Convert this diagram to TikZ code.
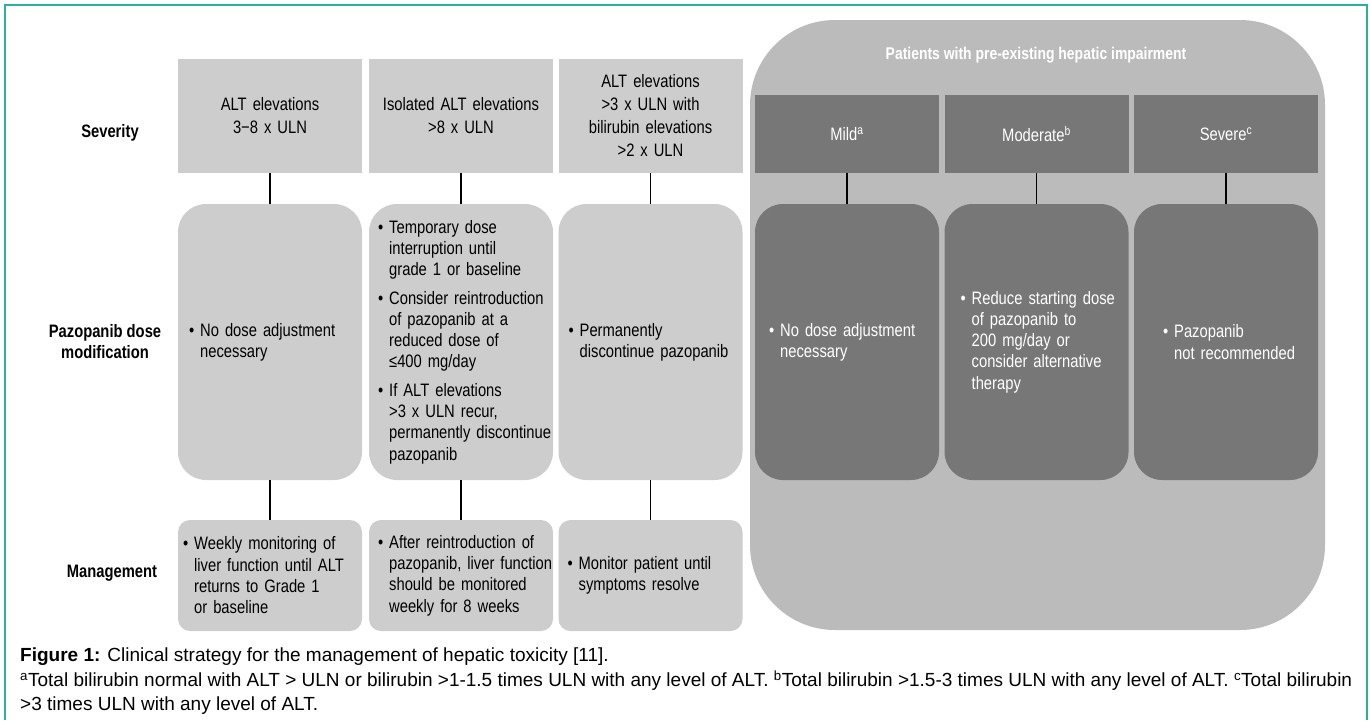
\documentclass[tikz,border=0pt]{standalone}
\usepackage{fontspec}
\setmainfont{Liberation Sans}
\newfontfamily\narrowfont[FakeStretch=0.82]{Liberation Sans}
\usetikzlibrary{positioning}
\definecolor{framegreen}{RGB}{42,178,150}
\definecolor{lightbox}{RGB}{205,205,205}
\definecolor{regionbox}{RGB}{187,187,187}
\definecolor{darkbox}{RGB}{119,119,119}
\newcommand{\boxpad}{10pt}
\newcommand{\blt}{\hspace*{\boxpad}\textbullet\ }
\newcommand{\ind}{\hspace*{\boxpad}\phantom{\textbullet\ }}
\tikzset{
  headfont/.style={font=\narrowfont\fontsize{18}{23}\selectfont},
  bodyfont/.style={font=\narrowfont\fontsize{18}{21.3}\selectfont},
  textpad/.style={execute at begin node={\renewcommand{\boxpad}{#1}}},
  sevbox/.style={headfont, fill=lightbox, minimum width=184pt, minimum height=114pt, inner sep=2pt, text width=180pt, align=center},
  gradebox/.style={sevbox, fill=darkbox, text=white, minimum height=78pt},
  dosebox/.style={bodyfont, fill=lightbox, rounded corners=28pt, minimum height=276pt, inner xsep=0pt, text width=184pt, align=left, textpad=10pt},
  impdose/.style={dosebox, fill=darkbox, text=white, textpad=14pt},
  mgmtbox/.style={bodyfont, fill=lightbox, rounded corners=12pt, minimum height=111pt, inner xsep=0pt, text width=184pt, align=left, textpad=9pt},
  rowlabel/.style={font=\narrowfont\bfseries\fontsize{18}{21}\selectfont, align=center},
  link/.style={line width=1.6pt}
}

\begin{document}
\begin{tikzpicture}[x=1pt, y=-1pt]
  \useasboundingbox (0,0) rectangle (1370,720);
  \draw[framegreen, line width=2pt] (5,720) -- (5,5) -- (1367,5) -- (1367,720);

  % row labels
  \node[rowlabel] (lsev) at (110,133) {Severity};
  \node[rowlabel] (ldose) at (105,342) {Pazopanib dose\\modification};
  \node[rowlabel] (lmgmt) at (112,573) {Management};

  % pre-existing impairment region
  \node[fill=regionbox, rounded corners=85pt, minimum width=575pt, minimum height=610pt] (region) at (1037.5,325) {};
  \node[font=\narrowfont\bfseries\fontsize{17}{20}\selectfont, text=white] (rtitle) at (1036,55) {Patients with pre-existing hepatic impairment};

  % severity
  \node[sevbox] (sev1) at (270,116) {ALT elevations\\3\textminus 8 x ULN};
  \node[sevbox] (sev2) at (461,116) {Isolated ALT elevations\\>8 x ULN};
  \node[sevbox] (sev3) at (650.5,116) {ALT elevations\\>3 x ULN with\\bilirubin elevations\\>2 x ULN};
  \node[gradebox] (mild) at (847,134) {Mild\textsuperscript{a}};
  \node[gradebox] (moderate) at (1036.5,134) {Moderate\textsuperscript{b}};
  \node[gradebox] (severe) at (1226,134) {Severe\textsuperscript{c}};

  % dose modification
  \node[dosebox, textpad=11pt] (dose1) at (270,342) {\blt No dose adjustment\\\ind necessary};
  \node[dosebox, textpad=9pt] (dose2) at (461,342) {\blt Temporary dose\\\ind interruption until\\\ind grade 1 or baseline\\[7pt]
    \blt Consider reintroduction\\\ind of pazopanib at a\\\ind reduced dose of\\\ind ≤400 mg/day\\[7pt]
    \blt If ALT elevations\\\ind >3 x ULN recur,\\\ind permanently discontinue\\\ind pazopanib};
  \node[dosebox] (dose3) at (650.5,342) {\blt Permanently\\\ind discontinue pazopanib};
  \node[impdose] (dose4) at (847,342) {\blt No dose adjustment\\\ind necessary};
  \node[impdose, textpad=16pt] (dose5) at (1036.5,342) {\blt Reduce starting dose\\\ind of pazopanib to\\\ind 200 mg/day or\\\ind consider alternative\\\ind therapy};
  \node[impdose, textpad=29pt] (dose6) at (1226,342) {\blt Pazopanib\\\ind not recommended};

  % management
  \node[mgmtbox, textpad=5pt] (mgmt1) at (270,575.5) {\blt Weekly monitoring of\\\ind liver function until ALT\\\ind returns to Grade 1\\\ind or baseline};
  \node[mgmtbox] (mgmt2) at (461,575.5) {\blt After reintroduction of\\\ind pazopanib, liver function\\\ind should be monitored\\\ind weekly for 8 weeks};
  \node[mgmtbox] (mgmt3) at (650.5,575.5) {\blt Monitor patient until\\\ind symptoms resolve};

  % connectors
  \foreach \a/\b in {sev1/dose1, sev2/dose2, sev3/dose3, mild/dose4, moderate/dose5, severe/dose6, dose1/mgmt1, dose2/mgmt2, dose3/mgmt3}
    \draw[link] (\a) -- (\b);

  % caption
  \node[anchor=north west, align=left, inner sep=0pt, font=\fontsize{19}{24.5}\selectfont] (caption) at (20,648)
    {\textbf{Figure 1:} Clinical strategy for the management of hepatic toxicity [11].\\
     \textsuperscript{a}Total bilirubin normal with ALT > ULN or bilirubin >1-1.5 times ULN with any level of ALT. \textsuperscript{b}Total bilirubin >1.5-3 times ULN with any level of ALT. \textsuperscript{c}Total bilirubin\\
     >3 times ULN with any level of ALT.};
\end{tikzpicture}
\end{document}
